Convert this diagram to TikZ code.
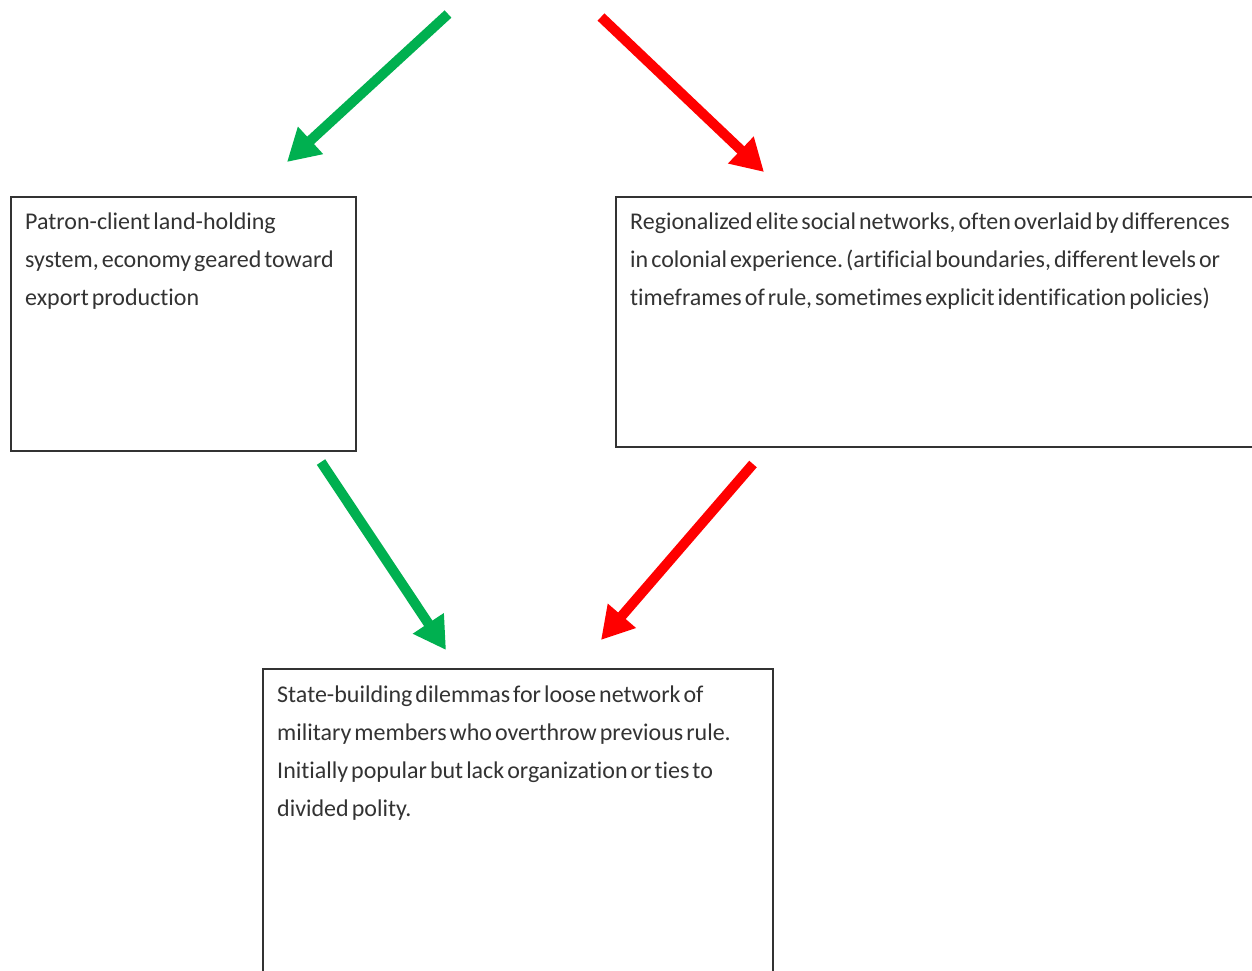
\documentclass[tikz,border=0pt]{standalone}
\usepackage{fontspec}
\setmainfont[Ligatures=NoCommon, WordSpace={0.55,0,0}]{Carlito}
\usetikzlibrary{arrows.meta}
\definecolor{offgreen}{HTML}{00B050}
\definecolor{offred}{HTML}{FF0000}
\definecolor{boxline}{HTML}{333333}
\definecolor{boxtext}{HTML}{333333}
\frenchspacing
\tikzset{
  panel/.style={draw=boxline, line width=1.5pt, anchor=north west, inner sep=0pt},
  panetext/.style={anchor=north west, inner sep=0pt, align=left, text=boxtext,
    font=\fontsize{24}{38}\selectfont},
  fatarrow/.style={line width=10pt, -{Triangle[length=32pt,width=35pt]}},
}
\begin{document}
\begin{tikzpicture}[x=1pt,y=-1pt]
\useasboundingbox[fill=white] (0,0) rectangle (1252,970);

% boxes
\node[panel, minimum width=345pt, minimum height=254pt] (leftbox) at (10,196) {};
\node[panel, minimum width=640pt, minimum height=250pt] (rightbox) at (615,196) {};
\node[panel, minimum width=510pt, minimum height=320pt] (bottombox) at (262,668) {};

% box texts
\node[panetext] (lefttext) at (25,213)
  {Patron-client land-holding\\system, economy geared toward\\export production};
\node[panetext] (righttext) at (630,213)
  {Regionalized elite social networks, often overlaid by differences\\in colonial experience. (artificial boundaries, different levels or\\timeframes of rule, sometimes explicit identification policies)};
\node[panetext] (bottomtext) at (277,686)
  {State-building dilemmas for loose network of\\military members who overthrow previous rule.\\Initially popular but lack organization or ties to\\divided polity.};

% arrow end points
\coordinate (g1s) at (448,14);
\coordinate (g1e) at (287,162);
\coordinate (r1s) at (601,17);
\coordinate (r1e) at (764,172);
\coordinate (g2s) at (321,462);
\coordinate (g2e) at (446,650);
\coordinate (r2s) at (753,464);
\coordinate (r2e) at (601,640);

\draw[fatarrow, offgreen] (g1s) -- (g1e);
\draw[fatarrow, offred] (r1s) -- (r1e);
\draw[fatarrow, offgreen] (g2s) -- (g2e);
\draw[fatarrow, offred] (r2s) -- (r2e);
\end{tikzpicture}
\end{document}
